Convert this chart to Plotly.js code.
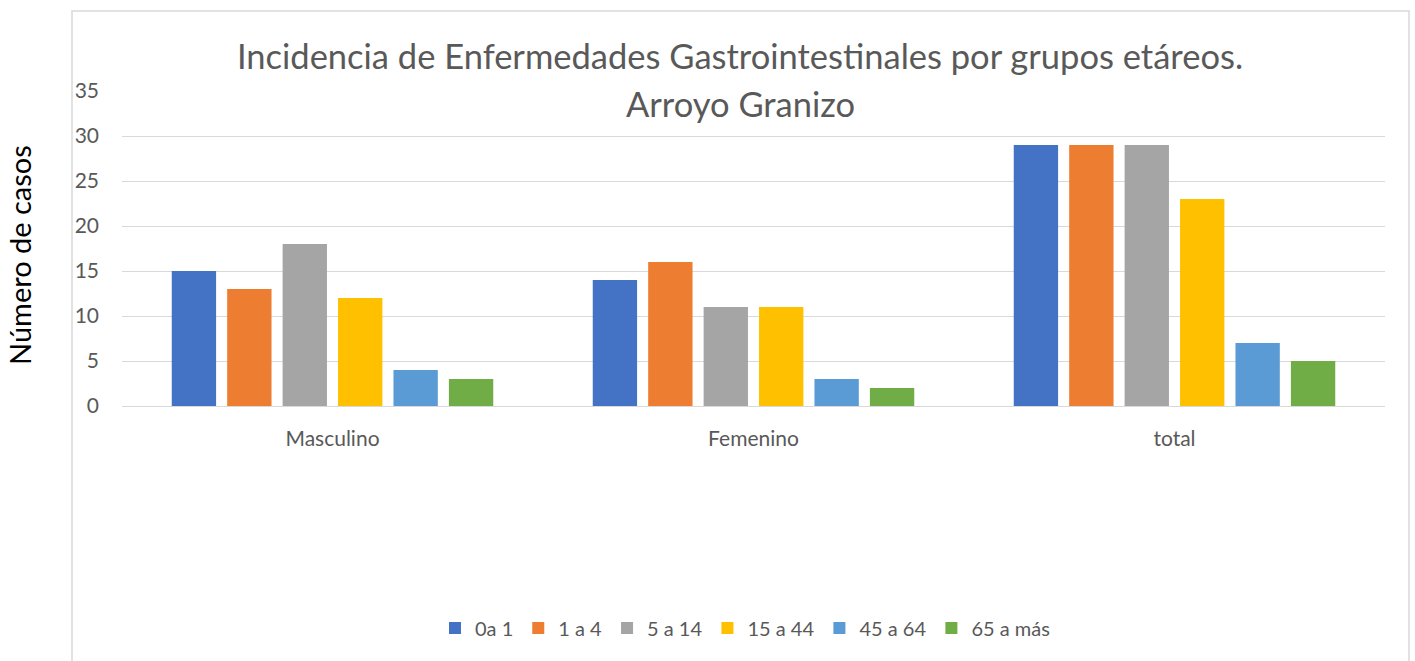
<!DOCTYPE html>
<html>
<head>
<meta charset="utf-8">
<script src="https://cdn.plot.ly/plotly-3.0.1.min.js"></script>
<style>html,body{margin:0;padding:0;background:#fff;}#chart{width:1415px;height:661px;}</style>
</head>
<body>
<div id="chart"></div>
<script>
const categories = ["Masculino", "Femenino", "total"];
const seriesNames = ["0a 1", "1 a 4", "5 a 14", "15 a 44", "45 a 64", "65 a más"];
const s0a1 = [15, 14, 29];
const s1a4 = [13, 16, 29];
const s5a14 = [18, 11, 29];
const s15a44 = [12, 11, 23];
const s45a64 = [4, 3, 7];
const s65mas = [3, 2, 5];
const yTicks = [0, 5, 10, 15, 20, 25, 30, 35];
const colors = ["#4472C4", "#ED7D31", "#A5A5A5", "#FFC000", "#5B9BD5", "#70AD47"];

const allSeries = [s0a1, s1a4, s5a14, s15a44, s45a64, s65mas];
const FONT = "Lato, 'Open Sans', sans-serif";

const traces = allSeries.map((vals, i) => ({
  type: "bar",
  name: seriesNames[i],
  x: categories,
  y: vals,
  marker: {color: colors[i]},
  hoverinfo: "x+y+name"
}));

const layout = {
  width: 1415,
  height: 661,
  margin: {l: 122, r: 30, t: 91, b: 255, autoexpand: false},
  paper_bgcolor: "#ffffff",
  plot_bgcolor: "#ffffff",
  font: {family: FONT, color: "#595959", size: 21},
  barmode: "group",
  bargap: 0.21,
  bargroupgap: 0.2,
  title: {
    text: "Incidencia de Enfermedades Gastrointestinales por grupos etáreos.",
    font: {family: FONT, size: 34.5, color: "#595959"},
    x: (740 - 122) / 1263, xanchor: "center", xref: "paper",
    y: 1 - 57 / 661, yanchor: "middle", yref: "container"
  },
  annotations: [
    {
      text: "Arroyo Granizo",
      xref: "paper", yref: "paper",
      x: (740 - 122) / 1263, y: (406 - 104) / 315,
      xanchor: "center", yanchor: "middle",
      showarrow: false,
      font: {family: FONT, size: 34.5, color: "#595959"}
    },
    {
      text: "Número de casos",
      xref: "paper", yref: "paper",
      x: (20 - 122) / 1263, y: (406 - 255) / 315,
      xanchor: "center", yanchor: "middle",
      textangle: -90,
      showarrow: false,
      font: {family: FONT, size: 29, color: "#000000"}
    }
  ],
  xaxis: {
    type: "category",
    showgrid: false,
    showline: true,
    linecolor: "#D9D9D9",
    linewidth: 1,
    ticks: "",
    ticklabelstandoff: 14,
    tickfont: {family: FONT, size: 21, color: "#595959"},
    fixedrange: true
  },
  yaxis: {
    range: [0, 35],
    tickvals: yTicks,
    ticktext: yTicks.map(String),
    showgrid: true,
    gridcolor: "#D9D9D9",
    gridwidth: 1,
    zeroline: false,
    showline: false,
    ticks: "",
    ticklabelstandoff: 22,
    tickfont: {family: FONT, size: 21, color: "#595959"},
    fixedrange: true
  },
  showlegend: true,
  legend: {
    orientation: "h",
    x: (745 - 122) / 1263, xanchor: "center",
    y: (406 - 628) / 315, yanchor: "middle",
    font: {family: FONT, size: 20, color: "#595959"},
    itemwidth: 30,
    traceorder: "normal",
    bgcolor: "rgba(0,0,0,0)"
  },
  shapes: [
    {
      type: "rect", xref: "paper", yref: "paper",
      x0: (72 - 122) / 1263, x1: (1409 - 122) / 1263,
      y0: (406 - 700) / 315, y1: (406 - 11) / 315,
      line: {color: "#D9D9D9", width: 1.5},
      fillcolor: "rgba(0,0,0,0)",
      layer: "below"
    }
  ]
};

Plotly.newPlot("chart", traces, layout, {displayModeBar: false, staticPlot: true});
</script>
</body>
</html>
